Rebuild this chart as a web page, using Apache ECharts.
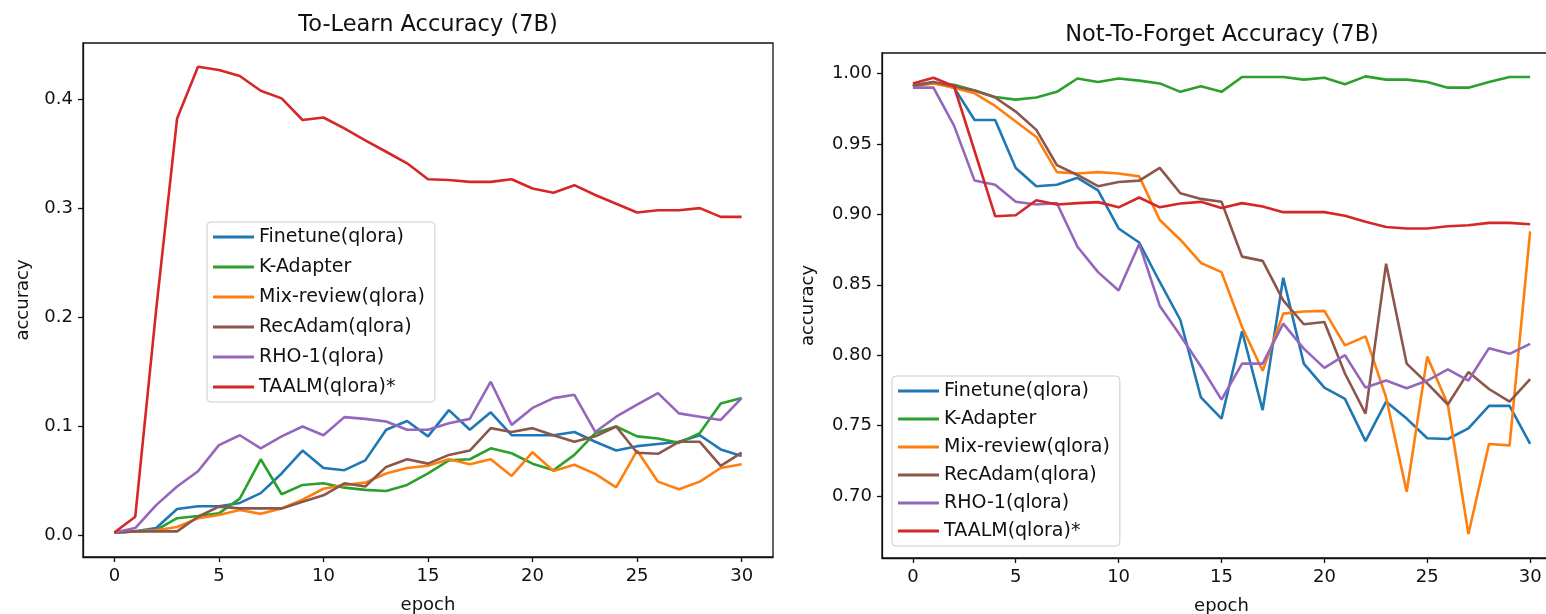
<!DOCTYPE html>
<html>
<head>
<meta charset="utf-8">
<title>accuracy 7B</title>
<script src="https://cdn.jsdelivr.net/npm/echarts@6.0.0/dist/echarts.min.js"></script>
<style>
  html, body { margin: 0; padding: 0; background: #fff; }
  #main { width: 1546px; height: 614px; }
</style>
</head>
<body>
<div id="main"></div>
<script type="text/javascript">
var epochs = [0,1,2,3,4,5,6,7,8,9,10,11,12,13,14,15,16,17,18,19,20,21,22,23,24,25,26,27,28,29,30];
var names = ['Finetune(qlora)', 'K-Adapter', 'Mix-review(qlora)', 'RecAdam(qlora)', 'RHO-1(qlora)', 'TAALM(qlora)*'];
var colors = ['#1f77b4', '#2ca02c', '#ff7f0e', '#8c564b', '#9467bd', '#d62728'];
var xTicks = [0, 5, 10, 15, 20, 25, 30];
var learnTicks = [0.0, 0.1, 0.2, 0.3, 0.4];
var forgetTicks = [0.70, 0.75, 0.80, 0.85, 0.90, 0.95, 1.00];

// To-Learn accuracy
var learnFinetune = [0.003,0.004,0.007,0.0245,0.027,0.027,0.030,0.039,0.057,0.078,0.062,0.060,0.069,0.097,0.105,0.091,0.115,0.097,0.113,0.092,0.092,0.092,0.095,0.086,0.078,0.082,0.084,0.086,0.092,0.079,0.073];
var learnKAdapter = [0.003,0.004,0.005,0.016,0.018,0.0205,0.034,0.070,0.038,0.0465,0.048,0.044,0.042,0.041,0.0465,0.057,0.069,0.070,0.080,0.0755,0.066,0.060,0.074,0.094,0.100,0.091,0.089,0.085,0.094,0.121,0.126];
var learnMixReview = [0.003,0.004,0.005,0.008,0.016,0.019,0.0235,0.020,0.025,0.033,0.043,0.0465,0.0486,0.057,0.062,0.064,0.070,0.0654,0.070,0.0547,0.0765,0.0593,0.065,0.0566,0.0443,0.078,0.0495,0.0425,0.0495,0.062,0.0654];
var learnRecAdam = [0.003,0.004,0.004,0.004,0.0174,0.0266,0.025,0.025,0.025,0.031,0.037,0.048,0.045,0.063,0.070,0.066,0.074,0.078,0.0985,0.095,0.0985,0.092,0.086,0.091,0.100,0.076,0.075,0.086,0.086,0.064,0.076];
var learnRho1 = [0.003,0.007,0.028,0.045,0.059,0.083,0.092,0.080,0.091,0.100,0.092,0.1086,0.107,0.1046,0.097,0.097,0.103,0.107,0.141,0.1015,0.117,0.126,0.129,0.095,0.109,0.120,0.1306,0.112,0.109,0.106,0.126];
var learnTaalm = [0.003,0.0174,0.207,0.382,0.4295,0.4265,0.421,0.4075,0.4005,0.3807,0.383,0.373,0.362,0.3516,0.341,0.3264,0.3257,0.324,0.324,0.3264,0.318,0.314,0.321,0.312,0.304,0.296,0.298,0.298,0.300,0.292,0.292];

// Not-To-Forget accuracy
var forgetFinetune = [0.9917,0.994,0.990,0.967,0.967,0.933,0.920,0.921,0.926,0.917,0.890,0.880,0.852,0.825,0.770,0.755,0.817,0.761,0.855,0.794,0.777,0.769,0.739,0.767,0.755,0.741,0.7405,0.748,0.764,0.764,0.737];
var forgetKAdapter = [0.9917,0.993,0.992,0.988,0.9834,0.9815,0.983,0.987,0.9965,0.994,0.9965,0.995,0.993,0.987,0.991,0.987,0.9976,0.9976,0.9976,0.9957,0.997,0.9924,0.998,0.9957,0.9957,0.994,0.990,0.990,0.994,0.9976,0.9976];
var forgetMixReview = [0.991,0.993,0.990,0.986,0.977,0.966,0.955,0.930,0.929,0.930,0.929,0.927,0.896,0.882,0.8655,0.859,0.820,0.789,0.8295,0.831,0.8315,0.807,0.8134,0.770,0.703,0.799,0.765,0.673,0.737,0.736,0.888];
var forgetRecAdam = [0.991,0.994,0.991,0.988,0.983,0.973,0.960,0.935,0.928,0.920,0.923,0.924,0.933,0.915,0.911,0.909,0.870,0.867,0.839,0.822,0.8236,0.787,0.7585,0.865,0.794,0.780,0.765,0.788,0.776,0.767,0.783];
var forgetRho1 = [0.990,0.990,0.963,0.924,0.921,0.909,0.907,0.908,0.877,0.859,0.846,0.879,0.835,0.814,0.792,0.7685,0.794,0.794,0.8224,0.8047,0.791,0.800,0.777,0.782,0.7765,0.782,0.790,0.782,0.805,0.801,0.808];
var forgetTaalm = [0.993,0.997,0.991,0.945,0.8987,0.8994,0.910,0.907,0.908,0.9087,0.905,0.912,0.905,0.9077,0.9089,0.9045,0.908,0.9056,0.9016,0.9016,0.9016,0.899,0.8947,0.891,0.890,0.890,0.8916,0.8923,0.894,0.894,0.893];

var learnData = [learnFinetune, learnKAdapter, learnMixReview, learnRecAdam, learnRho1, learnTaalm];
var forgetData = [forgetFinetune, forgetKAdapter, forgetMixReview, forgetRecAdam, forgetRho1, forgetTaalm];

var font = 'DejaVu Sans';
var ink = '#111111';

function lineSeries(values, i, idx) {
  return {
    name: names[i],
    type: 'line',
    xAxisIndex: idx,
    yAxisIndex: idx,
    showSymbol: false,
    symbol: 'none',
    color: colors[i],
    lineStyle: { color: colors[i], width: 2.6 },
    data: epochs.map(function (e, k) { return [e, values[k]]; })
  };
}

function xAxisOf(idx) {
  return {
    type: 'value', gridIndex: idx, min: -1.5, max: 31.5,
    name: 'epoch', nameLocation: 'middle', nameGap: 39,
    nameTextStyle: { fontFamily: font, fontSize: 18, color: ink },
    axisLine: { show: true, onZero: false, lineStyle: { color: ink, width: 1.3 } },
    axisTick: { show: true, length: 5, customValues: xTicks, lineStyle: { color: ink, width: 1.3 } },
    axisLabel: { customValues: xTicks, margin: 10, fontFamily: font, fontSize: 18, color: ink },
    splitLine: { show: false }
  };
}

function yAxisOf(idx, lo, hi, ticks, digits, gap) {
  return {
    type: 'value', gridIndex: idx, min: lo, max: hi,
    name: 'accuracy', nameLocation: 'middle', nameGap: gap, nameRotate: 90,
    nameTextStyle: { fontFamily: font, fontSize: 18, color: ink },
    axisLine: { show: true, onZero: false, lineStyle: { color: ink, width: 1.3 } },
    axisTick: { show: true, length: 5, customValues: ticks, lineStyle: { color: ink, width: 1.3 } },
    axisLabel: {
      customValues: ticks, margin: 10, fontFamily: font, fontSize: 18, color: ink,
      formatter: function (v) { return v.toFixed(digits); }
    },
    splitLine: { show: false }
  };
}

function legendOf(left, top, gap) {
  return {
    orient: 'vertical', left: left, top: top,
    icon: 'rect', itemWidth: 41, itemHeight: 3, itemGap: gap, itemTextGap: 15,
    padding: [5, 10, 5, 6],
    borderColor: '#cccccc', borderWidth: 1, borderRadius: 4,
    backgroundColor: 'rgba(255,255,255,0.8)',
    textStyle: { fontFamily: font, fontSize: 19, color: ink, lineHeight: 20 },
    data: names
  };
}

var series = [];
learnData.forEach(function (v, i) { series.push(lineSeries(v, i, 0)); });
forgetData.forEach(function (v, i) { series.push(lineSeries(v, i, 1)); });

var chart = echarts.init(document.getElementById('main'));
chart.setOption({
  animation: false,
  backgroundColor: '#ffffff',
  title: [
    { text: 'To-Learn Accuracy (7B)', left: 428, top: 14, textAlign: 'center', padding: 0,
      textStyle: { fontFamily: font, fontSize: 22.5, fontWeight: 'normal', color: ink } },
    { text: 'Not-To-Forget Accuracy (7B)', left: 1222, top: 24, textAlign: 'center', padding: 0,
      textStyle: { fontFamily: font, fontSize: 22.5, fontWeight: 'normal', color: ink } }
  ],
  legend: [legendOf(207, 222, 10), legendOf(892, 376, 8)],
  grid: [
    { left: 83, top: 43, width: 690, height: 514, show: true, borderColor: ink, borderWidth: 1.3, outerBoundsMode: 'none' },
    { left: 882, top: 53, width: 679, height: 505, show: true, borderColor: ink, borderWidth: 1.3, outerBoundsMode: 'none' }
  ],
  xAxis: [xAxisOf(0), xAxisOf(1)],
  yAxis: [
    yAxisOf(0, -0.0195, 0.4512, learnTicks, 1, 51),
    yAxisOf(1, 0.6560, 1.0146, forgetTicks, 2, 65)
  ],
  series: series
});
</script>
</body>
</html>
